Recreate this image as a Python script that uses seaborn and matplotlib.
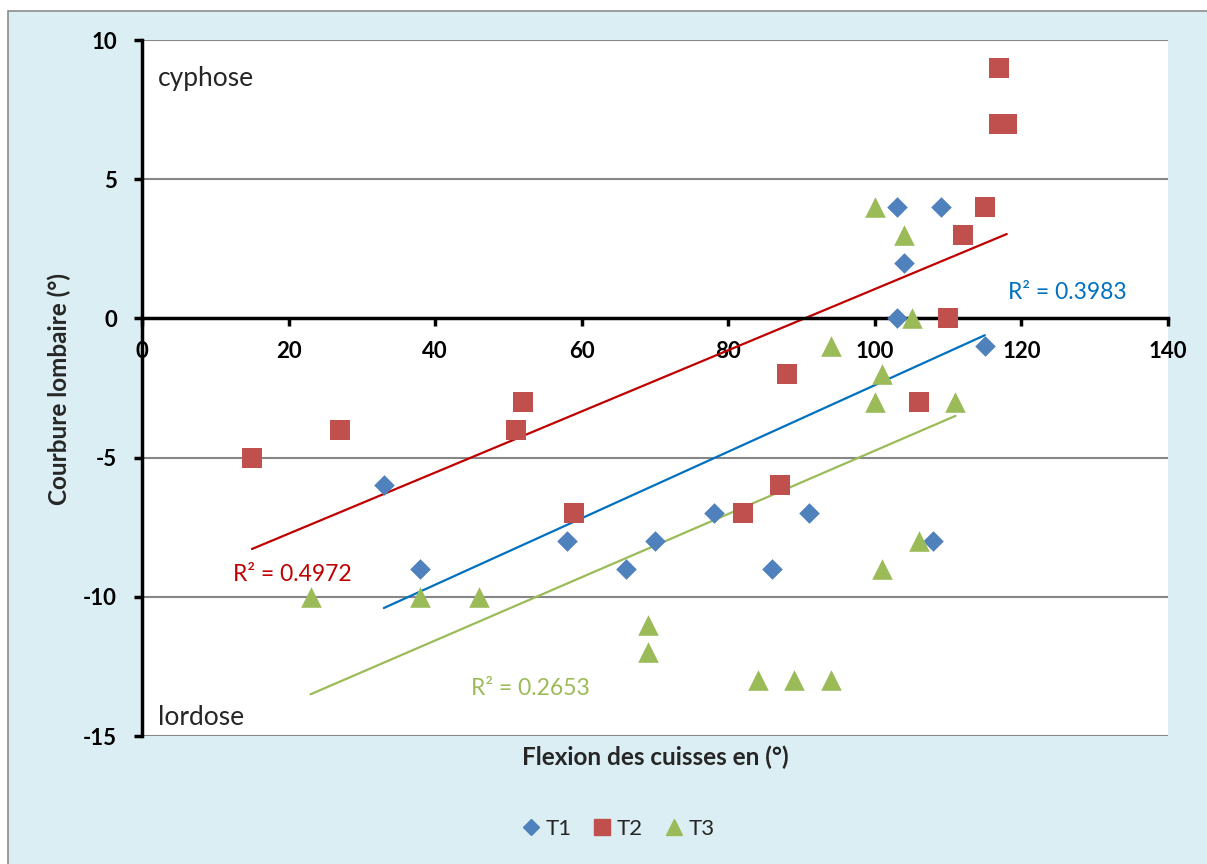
import numpy as np
import pandas as pd
import matplotlib
matplotlib.use("Agg")
import matplotlib.pyplot as plt
from matplotlib.lines import Line2D
from matplotlib.patches import Rectangle
import seaborn as sns

# ---- data ----
t1_x = [33, 38, 58, 66, 70, 78, 86, 91, 103, 104, 103, 109, 108, 115]
t1_y = [-6, -9, -8, -9, -8, -7, -9, -7, 4, 2, 0, 4, -8, -1]
t2_x = [15, 27, 51, 52, 59, 82, 87, 88, 106, 110, 112, 115, 117, 117, 118]
t2_y = [-5, -4, -4, -3, -7, -7, -6, -2, -3, 0, 3, 4, 9, 7, 7]
t3_x = [23, 38, 46, 69, 69, 84, 89, 94, 94, 100, 100, 101, 101, 104, 105, 106, 111]
t3_y = [-10, -10, -10, -11, -12, -13, -13, -13, -1, 4, -3, -2, -9, 3, 0, -8, -3]
series = ["T1", "T2", "T3"]
r2_labels = ["R² = 0.3983", "R² = 0.4972", "R² = 0.2653"]
x_ticks = [0, 20, 40, 60, 80, 100, 120, 140]
y_ticks = [-15, -10, -5, 0, 5, 10]

df = pd.concat([
    pd.DataFrame({"x": t1_x, "y": t1_y, "s": "T1"}),
    pd.DataFrame({"x": t2_x, "y": t2_y, "s": "T2"}),
    pd.DataFrame({"x": t3_x, "y": t3_y, "s": "T3"}),
], ignore_index=True)

sns.set_theme(style="white")
plt.rcParams['font.family'] = ['Lato', 'DejaVu Sans']

W, H = 1207, 864
fig = plt.figure(figsize=(W / 100, H / 100), dpi=100)
fig.patch.set_facecolor("white")
bg = Rectangle((8 / W, -0.05), 1.2, 1.05 - 11 / H, transform=fig.transFigure,
               facecolor="#DBEEF4", edgecolor="#8C8C8C", linewidth=1.2, zorder=-10)
fig.patches.append(bg)

ax = fig.add_axes([142 / W, 1 - 736 / H, (1168 - 142) / W, (736 - 40) / H])
ax.set_facecolor("white")

mcol = {"T1": "#4F81BD", "T2": "#C0504D", "T3": "#9BBB59"}
lcol = {"T1": "#0070C0", "T2": "#C00000", "T3": "#9BBB59"}
mk = {"T1": "D", "T2": "s", "T3": "^"}
msize = {"T1": 110, "T2": 200, "T3": 220}

for y in [10, 5, -5, -10, -15]:
    ax.axhline(y, color="#868686", lw=1.5, zorder=0)

for s in series:
    sub = df[df["s"] == s]
    sns.regplot(data=sub, x="x", y="y", ax=ax, scatter=False, ci=None,
                truncate=True, line_kws={"color": lcol[s], "lw": 1.6, "zorder": 2})
for s in series:
    sub = df[df["s"] == s]
    sns.scatterplot(data=sub, x="x", y="y", ax=ax, marker=mk[s], s=msize[s],
                    color=mcol[s], linewidth=0, zorder=3, legend=False)

ax.spines["bottom"].set_position(("data", 0))
ax.spines["top"].set_visible(False)
ax.spines["right"].set_visible(False)
for sp in ["left", "bottom"]:
    ax.spines[sp].set_color("black")
    ax.spines[sp].set_linewidth(2.5)

ax.set_xlim(0, 140)
ax.set_ylim(-15, 10)
ax.set_xticks(x_ticks)
ax.set_yticks(y_ticks)
ax.set_xticklabels([str(v) for v in x_ticks], fontsize=16, fontweight="bold")
ax.set_yticklabels([str(v) for v in y_ticks], fontsize=16, fontweight="bold")
ax.tick_params(axis="both", which="major", direction="out", length=6, width=2.5,
               colors="black", bottom=True, left=True)
ax.tick_params(axis="x", pad=10)
ax.tick_params(axis="y", pad=12)
ax.set_xlabel("")
ax.set_ylabel("")

ax.text(0.5, -10 / 696, "Flexion des cuisses en (°)", transform=ax.transAxes,
        ha="center", va="top", fontsize=17.5, fontweight="bold")
fig.text(59 / W, 1 - 389 / H, "Courbure lombaire (°)", rotation=90,
         ha="center", va="center", fontsize=17.5, fontweight="bold")

ax.text(2.2, 8.6, "cyphose", fontsize=19, ha="left", va="center")
ax.text(2.2, -14.35, "lordose", fontsize=19, ha="left", va="center")
ax.text(118.1, 0.93, r2_labels[0], color=lcol["T1"], fontsize=16.5, ha="left", va="center")
ax.text(12.4, -9.2, r2_labels[1], color=lcol["T2"], fontsize=16.5, ha="left", va="center")
ax.text(44.9, -13.3, r2_labels[2], color="#9BBB59", fontsize=16.5, ha="left", va="center")

handles = [Line2D([], [], marker=mk[s], color=mcol[s], linestyle="none",
                  markersize={"T1": 8.5, "T2": 12, "T3": 12}[s]) for s in series]
fig.legend(handles, series, loc="center", bbox_to_anchor=(616 / W, 1 - 829 / H),
           ncol=3, frameon=False, fontsize=16, handletextpad=0.05, columnspacing=0.8,
           handlelength=1.2)

fig.savefig("out.png", dpi=100, facecolor=fig.get_facecolor())
